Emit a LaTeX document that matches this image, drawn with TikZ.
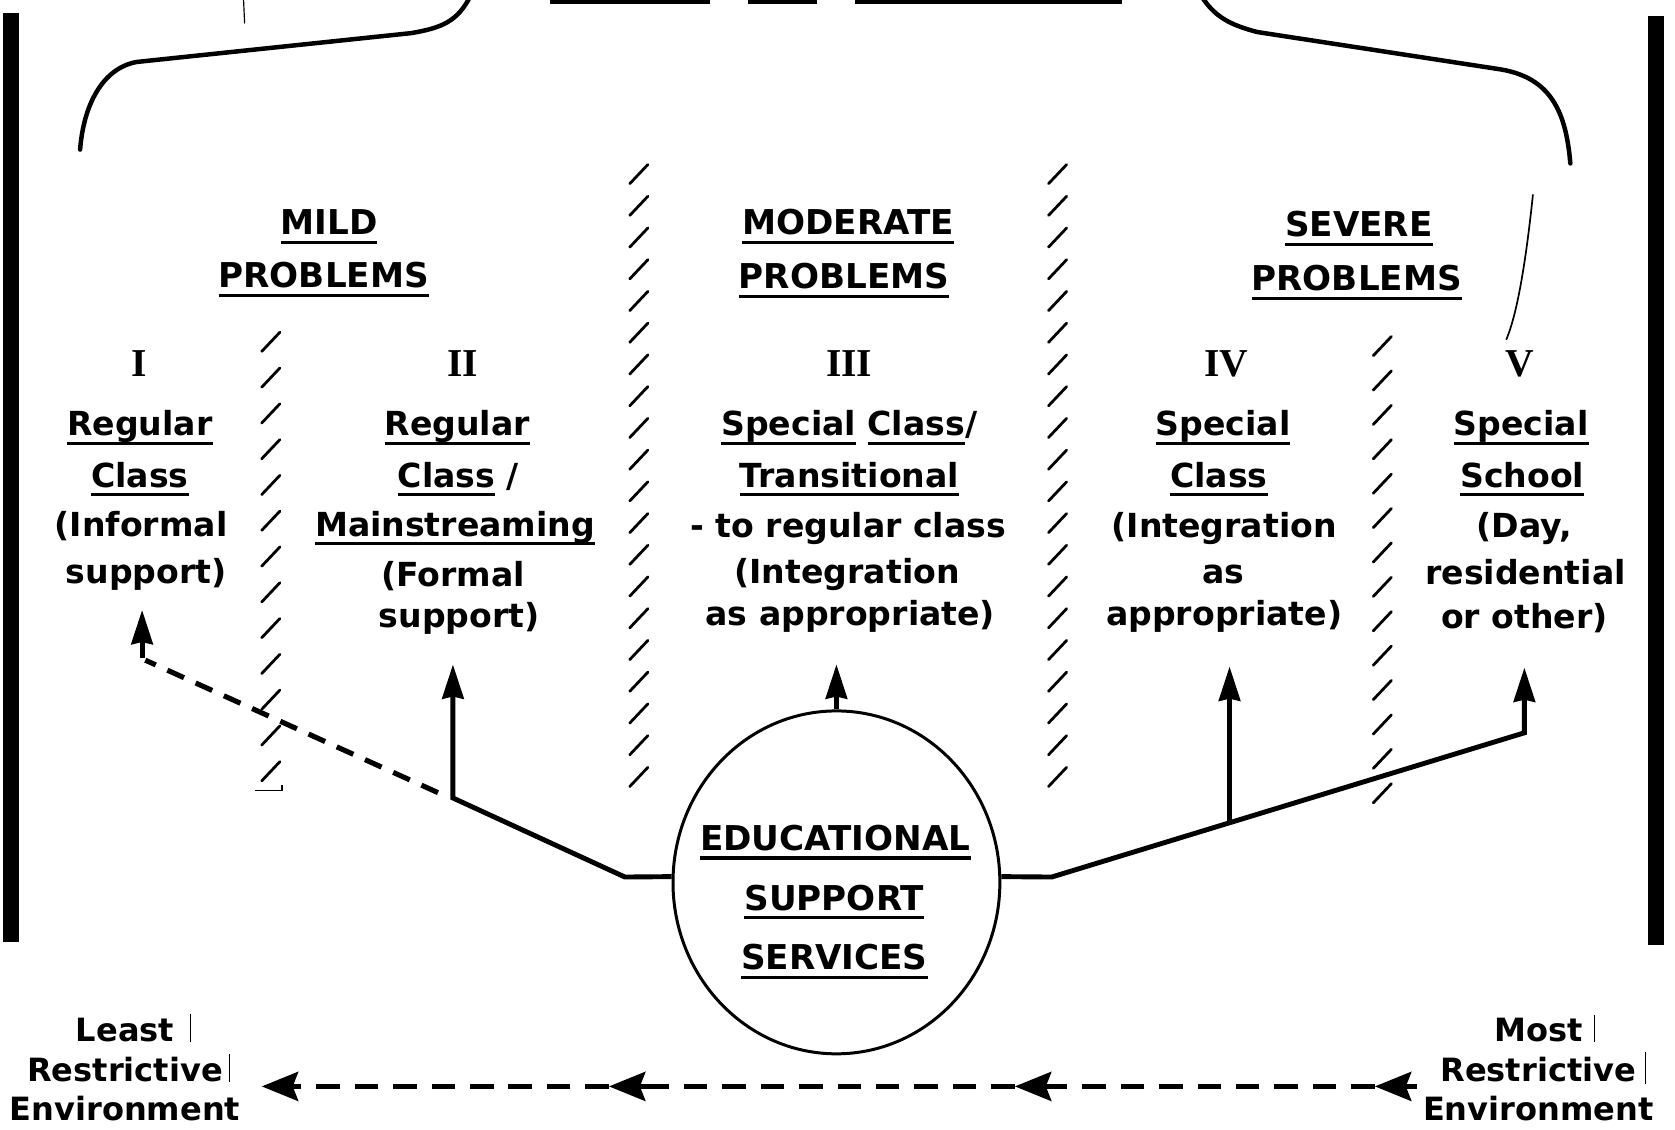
\documentclass[tikz,border=0pt]{standalone}
\usepackage{fontspec}
\setmainfont{DejaVu Sans}
\newfontfamily\numfont{Liberation Serif}
\usetikzlibrary{arrows.meta,shapes.geometric}

% underlined word: rule drawn a little below the baseline
\newcommand\ulw[1]{\setbox0\hbox{#1}\rlap{\rule[-0.27em]{\wd0}{0.09em}}\box0\relax}

\tikzset{
  lbl/.style={font=\fontsize{31}{31}\selectfont\bfseries, anchor=base, inner sep=0pt},
  head/.style={font=\fontsize{32}{32}\selectfont\bfseries, anchor=base, inner sep=0pt},
  foot/.style={font=\fontsize{30}{30}\selectfont\bfseries, anchor=base, inner sep=0pt},
  num/.style={font=\fontsize{37}{37}\selectfont\numfont\bfseries, anchor=base, inner sep=0pt},
  conn/.style={line width=4.6pt},
  tip/.style={-{Stealth[length=32pt,width=20pt,inset=2pt]}},
  btip/.style={-{Stealth[length=34pt,width=27pt,inset=5pt]}},
  bline/.style={line width=5pt},
  bdash/.style={bline, dash pattern=on 22pt off 14pt},
  hatch/.style={line width=2.6pt, line cap=round},
  brace/.style={line width=4.2pt, line cap=round},
  thin/.style={line width=1.1pt}
}

\begin{document}
\begin{tikzpicture}[x=1pt, y=-1pt]
\path[use as bounding box, fill=white] (0,0) rectangle (1568,1057);

% side bars
\fill (3,12) rectangle (18,882);
\fill (1543,15) rectangle (1558,885);

% cut-off rules along the top edge
\fill (515,0) rectangle (665,4);
\fill (700,0) rectangle (765,4);
\fill (800,0) rectangle (1050,4);
\draw[thin] (228,0) -- (229,22);

% brace over the three problem groups
\draw[brace] (440,-3) .. controls (428,20) and (414,26) .. (385,31) -- (128,58)
  .. controls (95,64) and (78,100) .. (75,140);
\draw[brace] (1125,-3) .. controls (1137,15) and (1150,23) .. (1177,30) -- (1405,65)
  .. controls (1452,73) and (1466,105) .. (1470,153);

% stray pen stroke near column V
\draw[line width=1.6pt] (1435,182) .. controls (1430,230) and (1422,290) .. (1410,318);

% hatched dividers
\foreach \x/\ya/\n/\d in {253.5/320/12/33.5, 598/163/19/29.7, 990/163/19/29.7, 1294/324/13/32.2}{
  \foreach \i in {0,...,\n}{
    \draw[hatch] ({\x-8.5},{\ya+\i*\d+9}) -- ({\x+8.5},{\ya+\i*\d-9});
  }
}
\draw[line width=1.8pt] (239,740) -- (264,740) -- (264,735);

% group headings
\node[head] (h1a) at (308,219.5) {\ulw{MILD}};
\node[head] (h1b) at (303,269.5) {\ulw{PROBLEMS}};
\node[head] (h2a) at (794,219.5) {\ulw{MODERATE}};
\node[head] (h2b) at (790,270) {\ulw{PROBLEMS}};
\node[head] (h3a) at (1272,221.5) {\ulw{SEVERE}};
\node[head] (h3b) at (1270,272) {\ulw{PROBLEMS}};

% level numerals
\node[num] (n1) at (130,352) {I};
\node[num] (n2) at (433,352) {II};
\node[num] (n3) at (795,352) {III};
\node[num] (n4) at (1148,352) {IV};
\node[num] (n5) at (1423,352) {V};

% column I
\node[lbl] (c1a) at (131,408) {\ulw{Regular}};
\node[lbl] (c1b) at (131,456) {\ulw{Class}};
\node[lbl] (c1c) at (132,502) {(Informal};
\node[lbl] (c1d) at (137,546) {support)};
% column II
\node[lbl] (c2a) at (428,408) {\ulw{Regular}};
\node[lbl] (c2b) at (429,456) {\ulw{Class} /};
\node[lbl] (c2c) at (426,502) {\ulw{Mainstreaming}};
\node[lbl] (c2d) at (424,549) {(Formal};
\node[lbl] (c2e) at (430,587) {support)};
% column III
\node[lbl] (c3a) at (795,408) {\ulw{Special} \ulw{Class}/};
\node[lbl] (c3b) at (795,456) {\ulw{Transitional}};
\node[lbl] (c3c) at (794,503) {- to regular class};
\node[lbl] (c3d) at (793,546) {(Integration};
\node[lbl] (c3e) at (796,586) {as appropriate)};
% column IV
\node[lbl] (c4a) at (1145,408) {\ulw{Special}};
\node[lbl] (c4b) at (1141,456) {\ulw{Class}};
\node[lbl] (c4c) at (1146,503) {(Integration};
\node[lbl] (c4d) at (1145,546) {as};
\node[lbl] (c4e) at (1146,586) {appropriate)};
% column V
\node[lbl] (c5a) at (1424,408) {\ulw{Special}};
\node[lbl] (c5b) at (1425,456) {\ulw{School}};
\node[lbl] (c5c) at (1427,503) {(Day,};
\node[lbl] (c5d) at (1428,547) {residential};
\node[lbl] (c5e) at (1427,588) {or other)};

% support services
\node[ellipse, draw, line width=2.8pt, minimum width=306pt, minimum height=321pt, inner sep=0pt]
  (ess) at (783,826) {};
\node[head] (t1) at (782,796) {\ulw{EDUCATIONAL}};
\node[head] (t2) at (781,852) {\ulw{SUPPORT}};
\node[head] (t3) at (781,908) {\ulw{SERVICES}};

% connector end points
\coordinate (T1) at (133,571);
\coordinate (T2) at (424,622);
\coordinate (T3) at (783,622);
\coordinate (T4) at (1151,624);
\coordinate (T5) at (1427,625);
\coordinate (Lb) at (585,821);
\coordinate (Lc) at (424,747);
\coordinate (Ld) at (410,742);
\coordinate (Le) at (136,618);
\coordinate (Lf) at (133,616);
\coordinate (Rb) at (984.5,821);
\coordinate (Rc) at (1427,686);
\coordinate (R4) at (1151,770.3);

\draw[conn, tip] (ess.178) -- (Lb) -- (Lc) -- (T2);
\draw[conn, tip] (ess.2) -- (Rb) -- (Rc) -- (T5);
\draw[conn, tip] (R4) -- (T4);
\draw[conn, tip] (ess.north) -- (T3);
\draw[line width=4.8pt, dash pattern=on 17pt off 12pt] (Ld) -- (Le);
\draw[conn, tip] (Lf) -- (T1);

% restrictiveness scale
\node[foot] (l1) at (117,975) {Least};
\node[foot] (l2) at (117,1012) {Restrictive};
\node[foot] (l3) at (117,1049) {Environment};
\node[foot] (m1) at (1440,975) {Most};
\node[foot] (m2) at (1440,1012) {Restrictive};
\node[foot] (m3) at (1440,1049) {Environment};
\draw[thin] (178,949) -- (178,975);
\draw[thin] (215,987) -- (215,1013);
\draw[thin] (1493,950) -- (1493,975);
\draw[thin] (1540,985) -- (1540,1015);

% arrow tips (B) and the backs of the heads (H)
\coordinate (B1) at (1287,1017);
\coordinate (B2) at (950,1017);
\coordinate (B3) at (570,1017);
\coordinate (B4) at (245,1017);
\coordinate (H1) at (1326,1017);
\coordinate (H2) at (987,1017);
\coordinate (H3) at (607,1017);
\coordinate (H4) at (282,1017);
\draw[bdash] (B1) -- (H2);
\draw[bdash] (B2) -- (H3);
\draw[bdash] (B3) -- (H4);
\foreach \h/\b in {H1/B1, H2/B2, H3/B3, H4/B4}
  \draw[bline, btip] (\h) -- (\b);
\end{tikzpicture}
\end{document}
